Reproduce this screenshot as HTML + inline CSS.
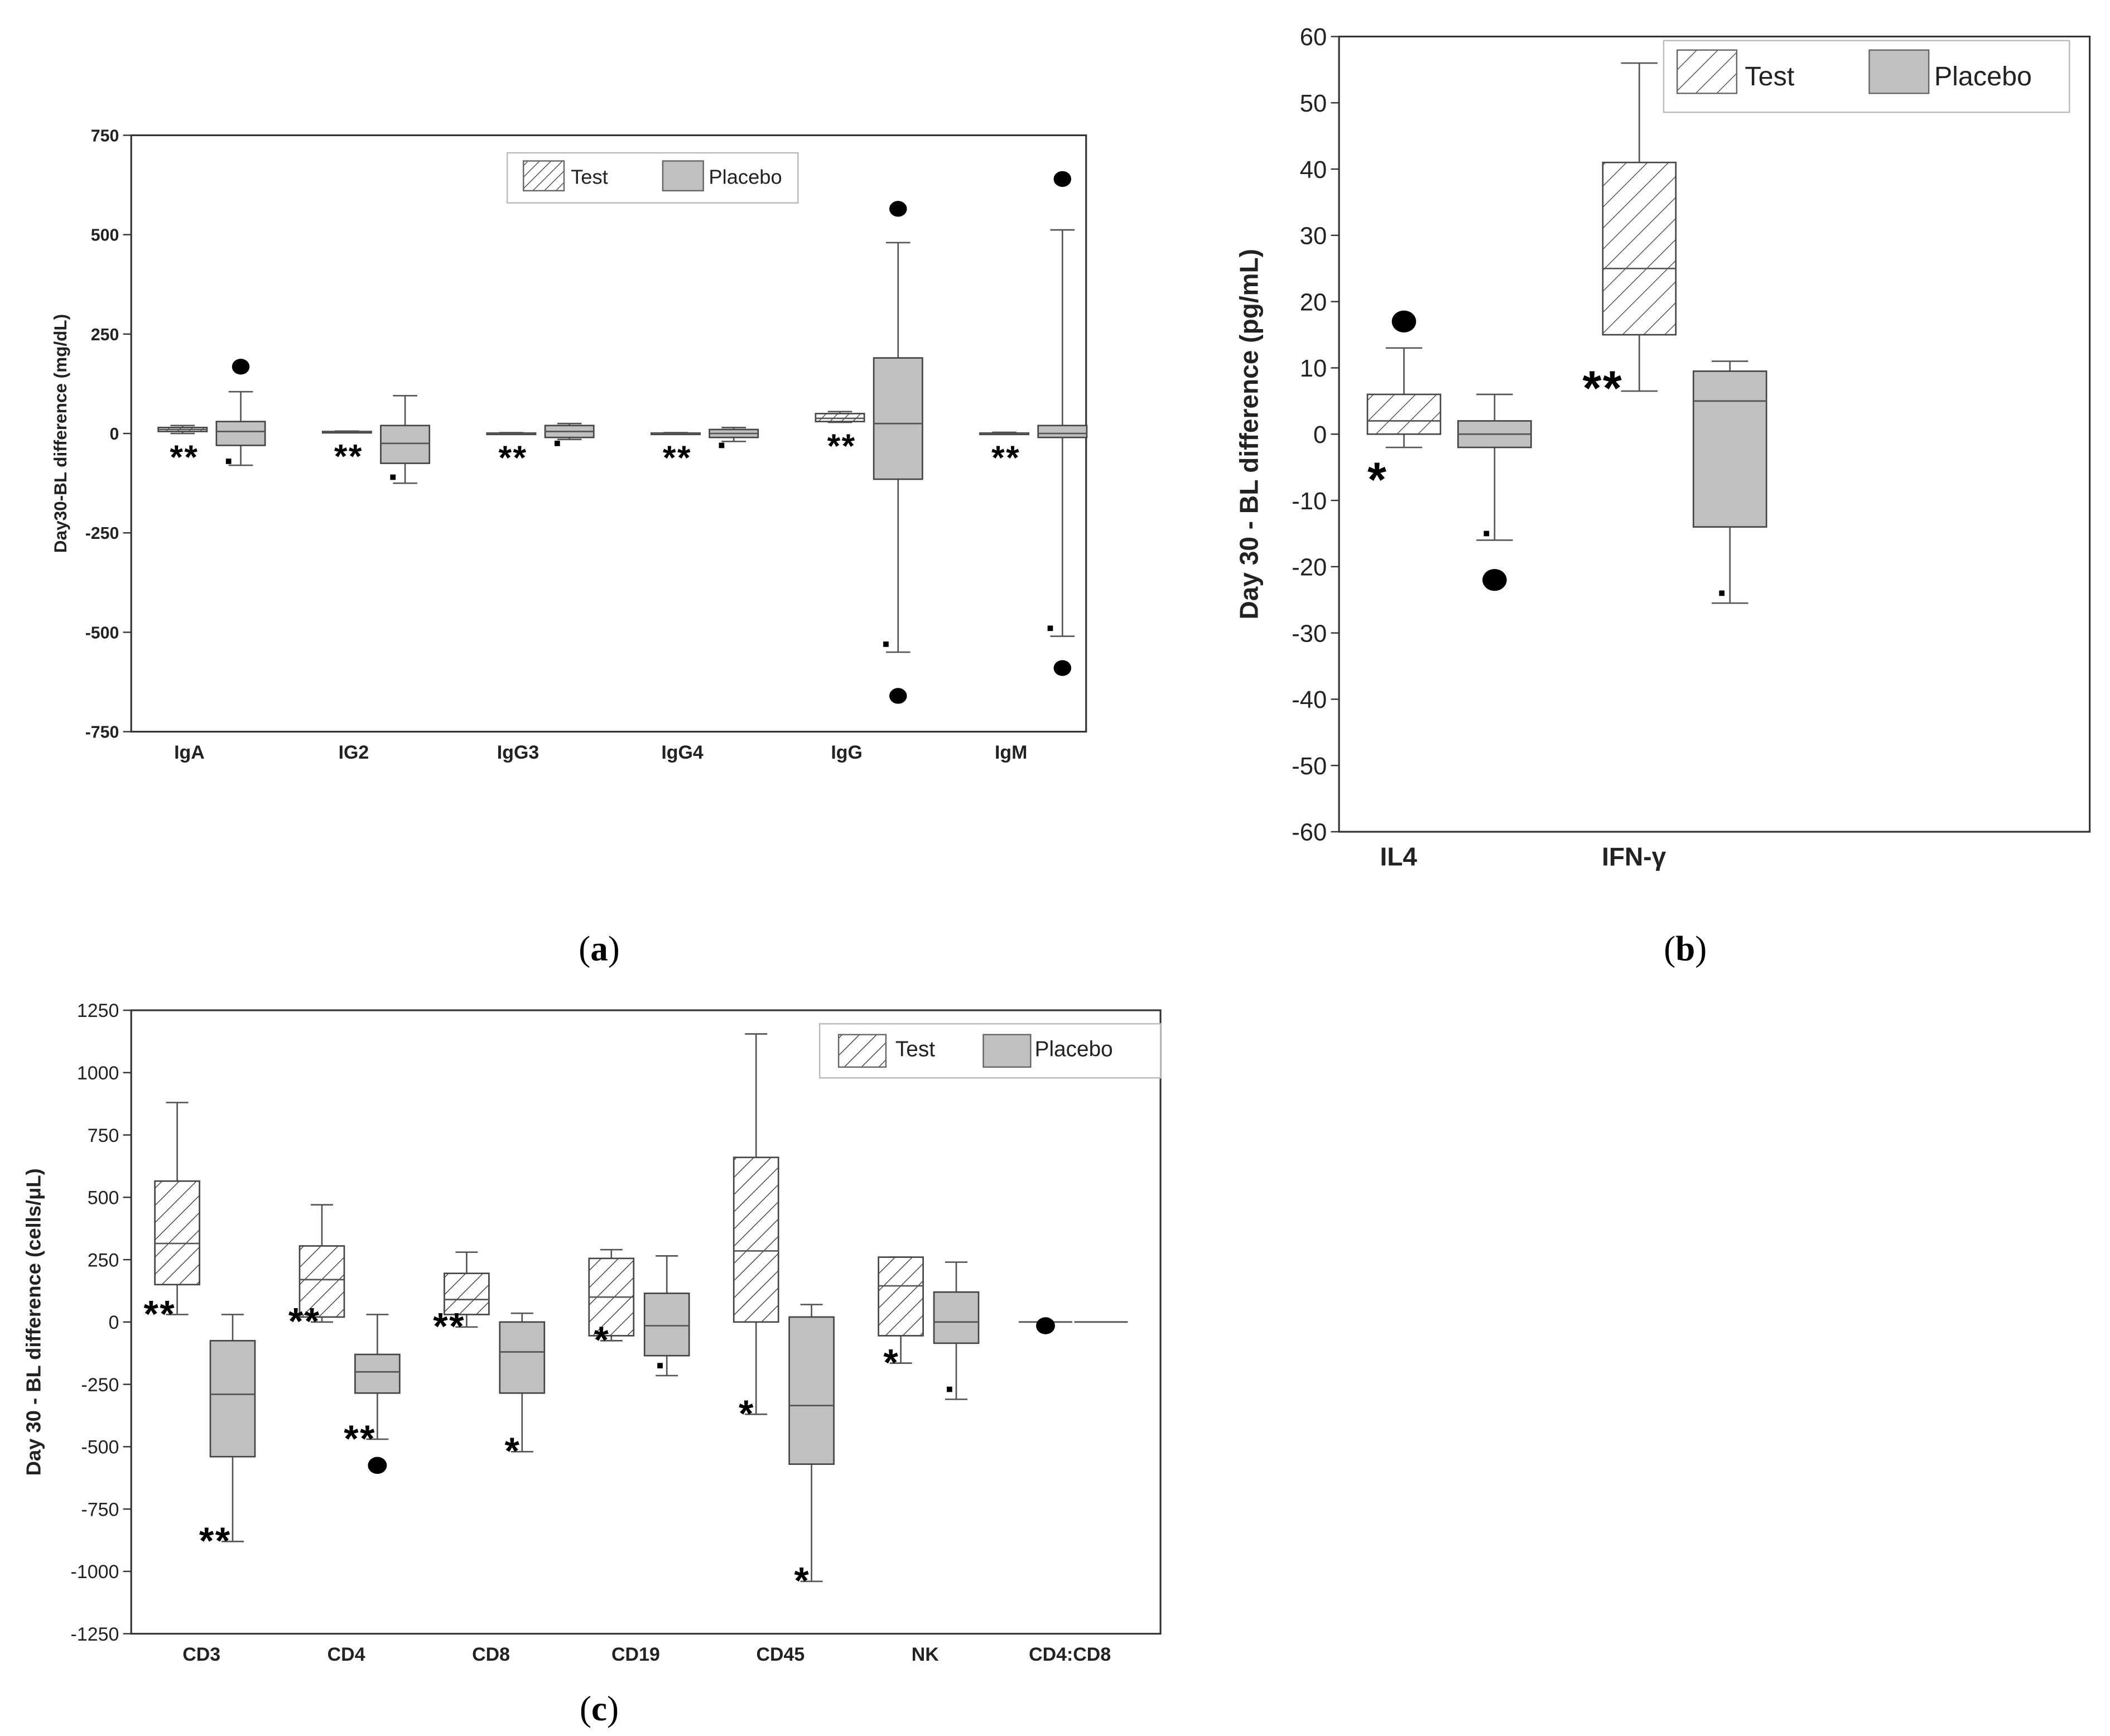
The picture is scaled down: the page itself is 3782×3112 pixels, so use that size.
<!DOCTYPE html>
<html><head><meta charset="utf-8"><style>
html,body{margin:0;padding:0;background:#fff;}
svg{display:block;font-family:"Liberation Sans",Arial,sans-serif;}
</style></head><body>
<svg id="fig" xmlns="http://www.w3.org/2000/svg" width="3782" height="3112" viewBox="0 0 1560 1283.6">
<defs>
<pattern id="hatchA" patternUnits="userSpaceOnUse" width="6" height="6" patternTransform="rotate(45)"><rect width="6" height="6" fill="#fff"/><line x1="0" y1="0" x2="0" y2="6" stroke="#333" stroke-width="1"/></pattern>
<pattern id="hatchB" patternUnits="userSpaceOnUse" width="11" height="11" patternTransform="rotate(45)"><rect width="11" height="11" fill="#fff"/><line x1="0" y1="0" x2="0" y2="11" stroke="#444" stroke-width="1.1"/></pattern>
<pattern id="hatchC" patternUnits="userSpaceOnUse" width="9" height="9" patternTransform="rotate(45)"><rect width="9" height="9" fill="#fff"/><line x1="0" y1="0" x2="0" y2="9" stroke="#333" stroke-width="1.1"/></pattern>
</defs>
<g id="root"></g>
</svg>
<script>
// ---------- Panel (a) data ----------
const aCats = ["IgA","IG2","IgG3","IgG4","IgG","IgM"];
const aTest = [[0,5,10,15,20],[2,3,4,5,6],[-1,0,0,1,2],[-1,0,0,1,2],[28,30,38,50,55],[-1,0,0,1,3]];
const aPlacebo = [[-80,-30,5,30,105],[-125,-75,-25,20,95],[-15,-10,5,20,25],[-20,-10,0,10,15],[-550,-115,25,190,480],[-510,-10,0,20,512]];
const aDotsCat = [0,4,4,5,5];
const aDotsVal = [168,565,-660,640,-590];
const aSqCat = [0,1,2,3,4,5];
const aSqVal = [-70,-110,-25,-30,-530,-490];
const aStars = ["**","**","**","**","**","**"];
const aTicks = [750,500,250,0,-250,-500,-750];
// ---------- Panel (b) data ----------
const bCats = ["IL4","IFN-\u03b3"];
const bTest = [[-2,0,2,6,13],[6.5,15,25,41,56]];
const bPlacebo = [[-16,-2,0,2,6],[-25.5,-14,5,9.5,11]];
const bDotsCat = [0,0];
const bDotsVal = [17,-22];
const bDotsGrp = [0,1];
const bSqCat = [0,1];
const bSqVal = [-15,-24];
const bStars = ["*","**"];
const bTicks = [60,50,40,30,20,10,0,-10,-20,-30,-40,-50,-60];
// ---------- Panel (c) data ----------
const cCats = ["CD3","CD4","CD8","CD19","CD45","NK","CD4:CD8"];
const cTest = [[30,150,315,565,880],[0,20,170,305,470],[-20,30,90,195,280],[-75,-55,100,255,290],[-370,0,285,660,1155],[-165,-55,145,260,260],[0,0,0,0,0]];
const cPlacebo = [[-880,-540,-290,-75,30],[-470,-285,-200,-130,30],[-520,-285,-120,0,35],[-215,-135,-15,115,265],[-1040,-570,-335,20,70],[-310,-85,0,120,240],[0,0,0,0,0]];
const cTestStars = ["**","**","**","*","*","*",""];
const cPlaceboStars = ["**","**","*","","*","",""];
const cDotsCat = [1,6];
const cDotsVal = [-575,-15];
const cDotsGrp = [1,0];
const cSqCat = [3,5];
const cSqVal = [-175,-270];
const cTicks = [1250,1000,750,500,250,0,-250,-500,-750,-1000,-1250];

const NS = "http://www.w3.org/2000/svg";
const root = document.getElementById("root");
function mk(tag, attrs, parent, txt){
  const e = document.createElementNS(NS, tag);
  for (const k in attrs) e.setAttribute(k, attrs[k]);
  if (txt !== undefined) e.textContent = txt;
  (parent||root).appendChild(e);
  return e;
}

function panel(p){
  const g = mk("g", {});
  
  
  const y = v => p.y0 - v * p.ys;
  const xt = i => p.x0 + i * p.sp;
  const xp = i => p.x0 + i * p.sp + p.off;
  const fr = mk("rect", {x:p.L, y:p.T, width:p.R-p.L, height:p.B-p.T, fill:"none", stroke:"#333", "stroke-width":1.3}, g);
  
  
  p.ticks.forEach(t => {
    const tk = mk("line", {x1:p.L-6, x2:p.L, y1:y(t), y2:y(t), stroke:"#333", "stroke-width":1}, g);
    
    
    const tl = mk("text", {x:p.L-9, y:y(t)+p.tf*0.36, "text-anchor":"end", "font-size":p.tf, "font-weight":p.tw, fill:"#222"}, g, String(t));
    
    
  });
  const yt = mk("text", {x:0, y:0, transform:`translate(${p.ytx},${(p.T+p.B)/2}) rotate(-90)`, "text-anchor":"middle", "font-size":p.ytf, "font-weight":"bold", fill:"#222"}, g, p.ytitle);
  
  
  p.cats.forEach((c,i) => {
    const cl = mk("text", {x:xt(i)+p.labOff, y:p.B+p.cf+6, "text-anchor":"middle", "font-size":p.cf, "font-weight":"bold", fill:"#222"}, g, c);
    
    
  });
  function box(cx, d, fill, nm){
    const bg = mk("g", {}, g);
    
    
    const w = p.bw, hw = w/2, cw = w/4;
    if (d[0]===d[4]) {
      mk("line", {x1:cx-hw*1.2, x2:cx+hw*1.2, y1:y(d[2]), y2:y(d[2]), stroke:"#555", "stroke-width":1.2}, bg);
      return;
    }
    mk("line", {x1:cx, x2:cx, y1:y(d[4]), y2:y(d[3]), stroke:"#555", "stroke-width":1.1}, bg);
    mk("line", {x1:cx, x2:cx, y1:y(d[1]), y2:y(d[0]), stroke:"#555", "stroke-width":1.1}, bg);
    mk("line", {x1:cx-cw, x2:cx+cw, y1:y(d[4]), y2:y(d[4]), stroke:"#555", "stroke-width":1.1}, bg);
    mk("line", {x1:cx-cw, x2:cx+cw, y1:y(d[0]), y2:y(d[0]), stroke:"#555", "stroke-width":1.1}, bg);
    mk("rect", {x:cx-hw, y:y(d[3]), width:w, height:Math.max(1,y(d[1])-y(d[3])), fill:fill, stroke:"#444", "stroke-width":1.1}, bg);
    mk("line", {x1:cx-hw, x2:cx+hw, y1:y(d[2]), y2:y(d[2]), stroke:"#555", "stroke-width":1.1}, bg);
  }
  p.test.forEach((d,i) => box(xt(i), d, p.hatch, "test-box-"+p.cats[i].toLowerCase().replace(/[^a-z0-9]/g,'')));
  p.plac.forEach((d,i) => box(xp(i), d, "#c0c0c0", "placebo-box-"+p.cats[i].toLowerCase().replace(/[^a-z0-9]/g,'')));
  p.dotsCat.forEach((ci,k) => {
    const cx = (p.dotsGrp && p.dotsGrp[k]===0) ? xt(ci) : xp(ci);
    const dt = mk("ellipse", {cx:cx, cy:y(p.dotsVal[k]), rx:p.dr, ry:p.dr*0.9, fill:"#000"}, g);
    
    
  });
  p.sqCat.forEach((ci,k) => {
    const sq = mk("rect", {x:xp(ci)-p.sqOff-2, y:y(p.sqVal[k])-2, width:4, height:4, fill:"#000"}, g);
    
    
  });
  p.tStars.forEach((s,i) => {
    if (!s) return;
    const dy = p.stYs ? p.stYs[i] : p.stY;
    const st = mk("text", {x:xt(i)+p.stX, y:y(p.test[i][0])+dy, "text-anchor":"end", "font-size":p.sf, "font-weight":"bold", fill:"#000", "letter-spacing":1}, g, s);
    
    
  });
  (p.pStars||[]).forEach((s,i) => {
    if (!s) return;
    const st = mk("text", {x:xp(i)+p.stX, y:y(p.plac[i][0])+p.stY, "text-anchor":"end", "font-size":p.sf, "font-weight":"bold", fill:"#000", "letter-spacing":1}, g, s);
    
    
  });
  const lg = mk("g", {}, g);
  
  
  const L = p.leg;
  mk("rect", {x:L.x, y:L.y, width:L.w, height:L.h, fill:"#fff", stroke:"#bbb", "stroke-width":1}, lg);
  const e1 = mk("g", {}, lg);
  
  
  mk("rect", {x:L.s1, y:L.sy, width:L.sw, height:L.sh, fill:p.hatch, stroke:"#666", "stroke-width":1}, e1);
  mk("text", {x:L.t1, y:L.ty, "font-size":L.f, fill:"#222"}, e1, "Test");
  const e2 = mk("g", {}, lg);
  
  
  mk("rect", {x:L.s2, y:L.sy, width:L.sw, height:L.sh, fill:"#c0c0c0", stroke:"#666", "stroke-width":1}, e2);
  mk("text", {x:L.t2, y:L.ty, "font-size":L.f, fill:"#222"}, e2, "Placebo");
}

panel({name:"panel-a", L:97, R:803, T:100, B:541, y0:320.5, ys:441/1500,
  x0:135, sp:121.5, off:43, bw:36, labOff:5,
  ticks:aTicks, tf:12.5, tw:"bold", ytitle:"Day30-BL difference (mg/dL)", ytx:49, ytf:13,
  cats:aCats, cf:14, test:aTest, plac:aPlacebo, hatch:"url(#hatchA)",
  dotsCat:aDotsCat, dotsVal:aDotsVal, dotsGrp:null, dr:6.5,
  sqCat:aSqCat, sqVal:aSqVal, sqOff:9,
  tStars:aStars, stX:12, stY:26, sf:25,
  leg:{x:375,y:113,w:215,h:37,s1:387,s2:490,sy:119,sw:30,sh:22,t1:422,t2:524,ty:136,f:15}});

panel({name:"panel-b", L:990, R:1545, T:27, B:615, y0:321, ys:4.9,
  x0:1038, sp:174, off:67, bw:54, labOff:-4,
  ticks:bTicks, tf:18, tw:"normal", ytitle:"Day 30 - BL difference (pg/mL)", ytx:930, ytf:19,
  cats:bCats, cf:19, test:bTest, plac:bPlacebo, hatch:"url(#hatchB)",
  dotsCat:bDotsCat, dotsVal:bDotsVal, dotsGrp:bDotsGrp, dr:9,
  sqCat:bSqCat, sqVal:bSqVal, sqOff:6,
  tStars:bStars, stX:-12, stY:30, stYs:[36, 10], sf:36,
  leg:{x:1230,y:30,w:300,h:53,s1:1240,s2:1382,sy:37,sw:44,sh:32,t1:1290,t2:1430,ty:63,f:20}});

panel({name:"panel-c", L:97, R:858, T:747, B:1208, y0:977.5, ys:461/2500,
  x0:131, sp:107, off:41, bw:33, labOff:18,
  ticks:cTicks, tf:14, tw:"normal", ytitle:"Day 30 - BL difference (cells/\u03bcL)", ytx:30, ytf:15,
  cats:cCats, cf:14, test:cTest, plac:cPlacebo, hatch:"url(#hatchC)",
  dotsCat:cDotsCat, dotsVal:cDotsVal, dotsGrp:cDotsGrp, dr:7,
  sqCat:cSqCat, sqVal:cSqVal, sqOff:5,
  tStars:cTestStars, pStars:cPlaceboStars, stX:-1, stY:9, sf:28,
  leg:{x:606,y:757,w:252,h:40,s1:620,s2:727,sy:765,sw:35,sh:24,t1:662,t2:765,ty:781,f:16}});

[["(a)",443,710],["(b)",1246,710],["(c)",443,1272]].forEach(c => {
  const t = mk("text", {x:c[1], y:c[2], "text-anchor":"middle", "font-size":26, "font-family":"Liberation Serif, serif", fill:"#000"});
  
  
  t.appendChild(document.createTextNode("("));
  const b = document.createElementNS(NS, "tspan");
  b.setAttribute("font-weight", "bold");
  b.textContent = c[0][1];
  t.appendChild(b);
  t.appendChild(document.createTextNode(")"));
});
</script>
</body></html>
